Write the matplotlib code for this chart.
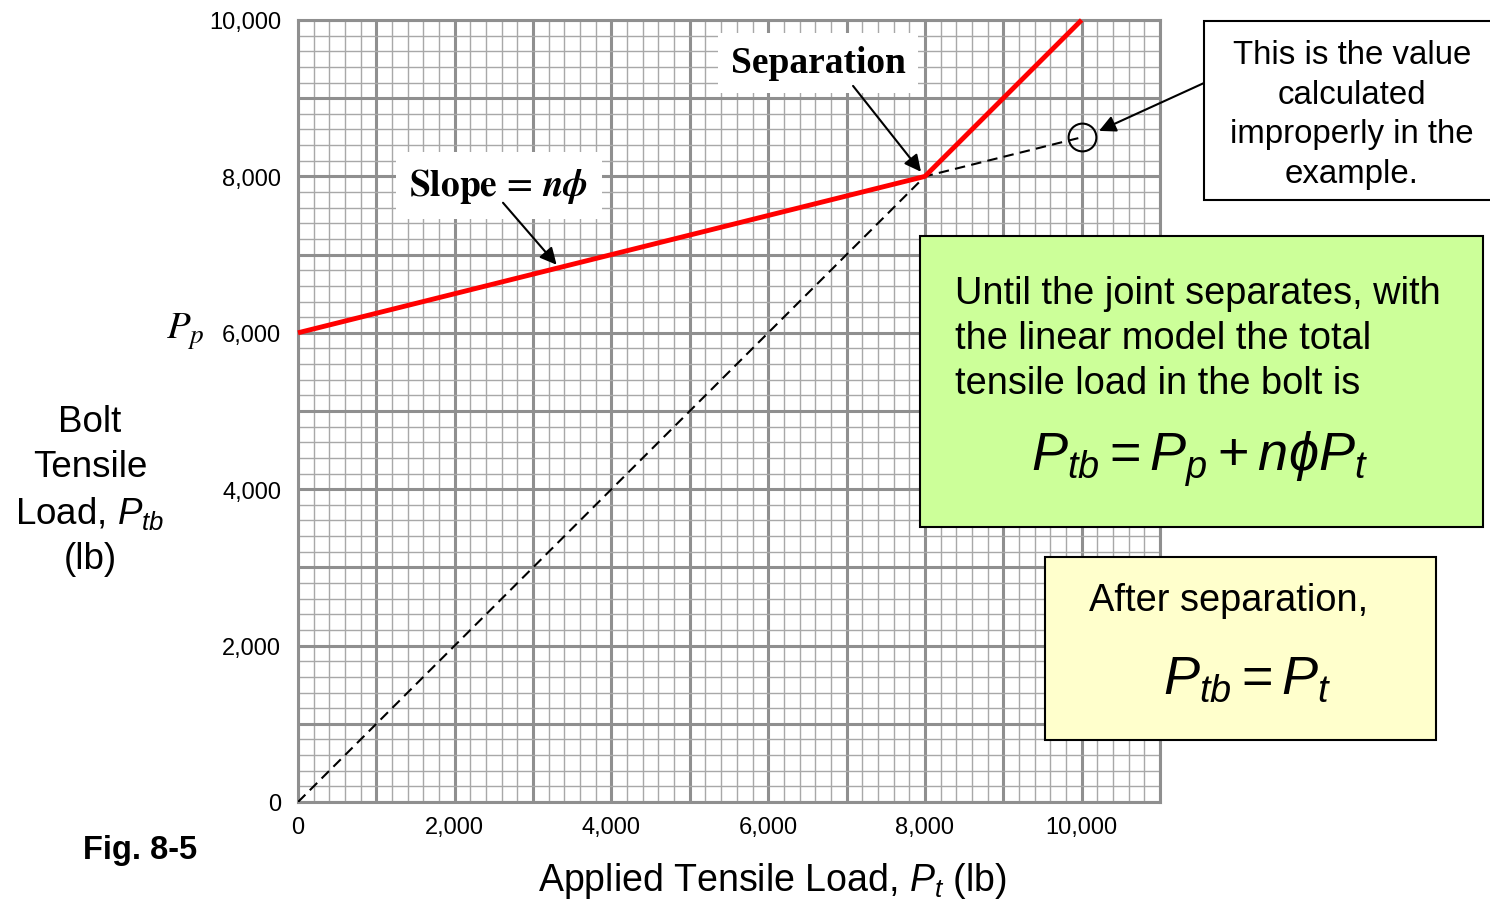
import matplotlib
matplotlib.use("Agg")
import matplotlib.pyplot as plt
from matplotlib.patches import Rectangle
from matplotlib.ticker import MultipleLocator

plt.rcParams['font.family'] = ['Liberation Sans', 'DejaVu Sans']
plt.rcParams['mathtext.fontset'] = 'custom'
plt.rcParams['mathtext.rm'] = 'Liberation Sans'
plt.rcParams['mathtext.it'] = 'Liberation Sans:italic'
plt.rcParams['mathtext.bf'] = 'Liberation Sans:bold'

# Datos del grafico
x_ticks = [0, 1000, 2000, 3000, 4000, 5000, 6000, 7000, 8000, 9000, 10000, 11000]
x_tick_labels = ['0', '', '2,000', '', '4,000', '', '6,000', '', '8,000', '', '10,000', '']
y_ticks = [0, 1000, 2000, 3000, 4000, 5000, 6000, 7000, 8000, 9000, 10000]
y_tick_labels = ['0', '', '2,000', '', '4,000', '', '6,000', '', '8,000', '', '10,000']

# carga del perno (linea roja): lineal hasta separacion, luego Ptb = Pt
pt_red = [0, 8000, 10000]
ptb_red = [6000, 8000, 10000]
# lineas punteadas: Ptb = Pt y la extension incorrecta
pt_dash = [0, 8000, 10000]
ptb_dash = [0, 8000, 8500]
wrong_pt = [10000]
wrong_ptb = [8500]

W, H = 1490, 903


def fx(x):
    return x / W


def fy(y):
    return 1 - y / H


fig = plt.figure(figsize=(14.9, 9.03), dpi=100)
ax = fig.add_axes([fx(298), fy(803), (1160 - 298) / W, (803 - 21) / H])

ax.set_xlim(0, 11000)
ax.set_ylim(0, 10000)
ax.set_xticks(x_ticks)
ax.set_xticklabels(x_tick_labels)
ax.set_yticks(y_ticks)
ax.set_yticklabels(y_tick_labels)
ax.xaxis.set_minor_locator(MultipleLocator(200))
ax.yaxis.set_minor_locator(MultipleLocator(200))
ax.tick_params(which='both', length=0)
ax.tick_params(axis='x', labelsize=17, pad=10)
ax.tick_params(axis='y', labelsize=17, pad=12)
ax.set_axisbelow(True)
ax.grid(which='minor', color='#a8a8a8', lw=1.0)
ax.grid(which='major', color='#8f8f8f', lw=2.2)
for s in ax.spines.values():
    s.set_color('#8f8f8f')
    s.set_linewidth(2.2)

ax.plot(pt_dash, ptb_dash, color='k', lw=1.5, linestyle=(0, (5, 3)), zorder=3)
ax.plot(pt_red, ptb_red, color='#ff0000', lw=3.5, zorder=4, clip_on=False,
        solid_capstyle='butt')
ax.plot(wrong_pt, wrong_ptb, 'o', ms=20, mfc='none', mec='k', mew=1.5, zorder=5)

arrow = dict(arrowstyle='-|>', mutation_scale=25, lw=1.5, color='k',
             shrinkA=0, shrinkB=0)

# Etiquetas dentro del grafico
ax.text(2565, 7880, r"$\mathbf{Slope}\,=\,\mathbfit{n\phi}$", math_fontfamily='stix',
        fontsize=27, ha='center', va='center', zorder=6,
        bbox=dict(fc='white', ec='none', pad=10))
ax.annotate('', xy=(3300, 6870), xytext=(2616, 7663), arrowprops=arrow, zorder=6)

ax.text(6636, 9451, "Separation", family='Liberation Serif', weight='bold',
        fontsize=27, ha='center', va='center', zorder=6,
        bbox=dict(fc='white', ec='none', pad=9))
ax.annotate('', xy=(7950, 8059), xytext=(7083, 9157), arrowprops=arrow, zorder=6)

ax.annotate('', xy=(10222, 8582), xytext=(1204, H - 84), textcoords='figure pixels',
            arrowprops=arrow, annotation_clip=False, zorder=6)

# Textos fuera de los ejes
fig.text(fx(185), fy(332), r"$P_p$", math_fontfamily='stix', fontsize=28,
         ha='center', va='center')
fig.text(fx(90), fy(491), "Bolt\nTensile\nLoad, $P_{tb}$\n(lb)", fontsize=26.5,
         ha='center', va='center', linespacing=1.36, multialignment='center')
fig.text(fx(772), fy(881), "Applied Tensile Load, $P_t$ (lb)", fontsize=27,
         ha='center', va='center')
fig.text(fx(140), fy(851), "Fig. 8-5", fontsize=23.5, weight='bold',
         ha='center', va='center')

# Cajas de texto
fig.patches.append(Rectangle((fx(1204), fy(201)), (1492 - 1204) / W, (201 - 22) / H,
                             transform=fig.transFigure, fc='white', ec='k', lw=1.5))
fig.text(fx(1352), fy(115), "This is the value\ncalculated\nimproperly in the\nexample.",
         fontsize=23.8, ha='center', va='center', linespacing=1.36,
         multialignment='center')

fig.patches.append(Rectangle((fx(920), fy(528)), (1483 - 920) / W, (528 - 237) / H,
                             transform=fig.transFigure, fc='#ccff99', ec='k', lw=1.5))
fig.text(fx(955), fy(339),
         "Until the joint separates, with\nthe linear model the total\ntensile load in the bolt is",
         fontsize=27.4, ha='left', va='center', linespacing=1.33)
fig.text(fx(1200), fy(459), r"$P_{tb} = P_p + n\phi P_t$", fontsize=39,
         ha='center', va='center')

fig.patches.append(Rectangle((fx(1045), fy(741)), (1436 - 1045) / W, (741 - 558) / H,
                             transform=fig.transFigure, fc='#ffffcc', ec='k', lw=1.5))
fig.text(fx(1229), fy(601), "After separation,", fontsize=27.4, ha='center', va='center')
fig.text(fx(1247), fy(680), r"$P_{tb} = P_t$", fontsize=39, ha='center', va='center')

fig.savefig("out.png", dpi=100)
